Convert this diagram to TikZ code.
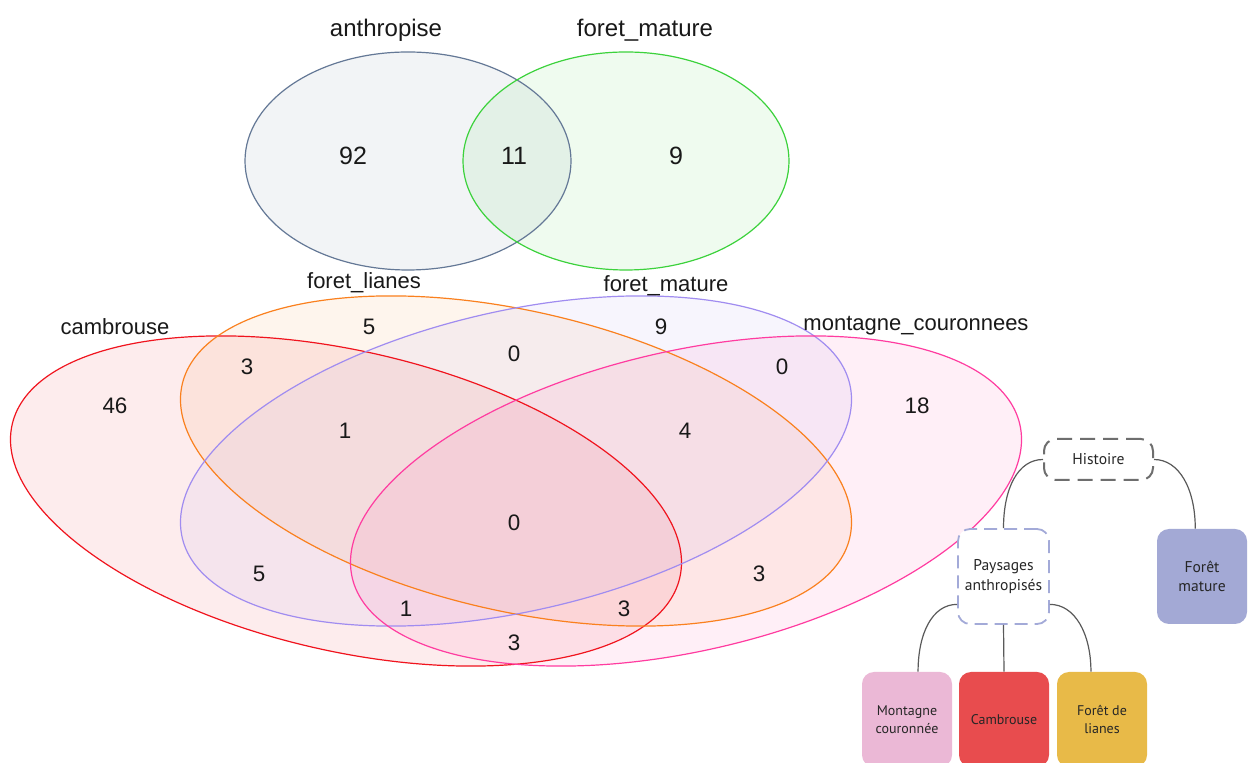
\documentclass[tikz,border=0pt]{standalone}
\usepackage{fontspec}
\setmainfont{Liberation Sans}
\newfontfamily\treefont{PT Sans}
\definecolor{cRed}{RGB}{240,20,30}
\definecolor{cOrange}{RGB}{250,128,30}
\definecolor{cPurple}{RGB}{160,140,240}
\definecolor{cPink}{RGB}{255,60,160}
\definecolor{cSlate}{RGB}{100,120,150}
\definecolor{cGreen}{RGB}{60,210,60}
\definecolor{cHist}{RGB}{110,110,110}
\definecolor{cPays}{RGB}{163,170,216}
\definecolor{cForet}{RGB}{163,169,213}
\definecolor{cMont}{RGB}{235,184,214}
\definecolor{cCamb}{RGB}{232,76,78}
\definecolor{cLian}{RGB}{232,186,72}
\definecolor{cLink}{RGB}{90,90,90}
\begin{document}
\begin{tikzpicture}[x=0.5pt,y=-0.5pt,
  vlbl/.style={font=\fontsize{11}{13}\selectfont, inner sep=0pt, text=black!90},
  vnum/.style={font=\fontsize{11.2}{13}\selectfont, inner sep=0pt, text=black!90},
  tlbl/.style={font=\fontsize{12}{14}\selectfont, inner sep=0pt, text=black!90},
  tnum/.style={font=\fontsize{12.5}{14}\selectfont, inner sep=0pt, text=black!90},
  vfill/.style={fill=#1, fill opacity=0.08},
  vline/.style={draw=#1, line width=0.6pt},
  treetext/.style={font=\treefont\fontsize{7.8}{9.6}\selectfont, align=center, text=black!85},
  dashbox/.style={treetext, rounded corners=6pt, fill=white, inner sep=0pt},
  colbox/.style={treetext, rounded corners=6pt, fill=#1, inner sep=0pt, minimum width=45pt, minimum height=47.5pt},
  link/.style={draw=cLink, line width=0.6pt}
]
\useasboundingbox (0,0) rectangle (1248,763);
\clip (0,0) rectangle (1248,763);
\fill[white] (0,0) rectangle (1248,763);

% ---------- top Venn ----------
\path[vfill=cSlate] (408,161) ellipse [x radius=163, y radius=109];
\path[vfill=cGreen] (626,161) ellipse [x radius=163, y radius=109];
\path[vline=cSlate] (408,161) ellipse [x radius=163, y radius=109];
\path[vline=cGreen] (626,161) ellipse [x radius=163, y radius=109];
\node[tlbl] (tA) at (386,30) {anthropise};
\node[tlbl] (tF) at (645,30) {foret\_mature};
\node[tnum] (n92) at (353,156) {92};
\node[tnum] (n11) at (514,156) {11};
\node[tnum] (n9t) at (676,156) {9};

% ---------- bottom Venn ----------
\path[vfill=cRed, rotate around={-12.93:(346,501)}] (346,501) ellipse [x radius=342.5, y radius=150];
\path[vfill=cOrange, rotate around={-12.93:(516,461)}] (516,461) ellipse [x radius=342.5, y radius=150];
\path[vfill=cPurple, rotate around={12.93:(516,461)}] (516,461) ellipse [x radius=342.5, y radius=150];
\path[vfill=cPink, rotate around={12.93:(686,501)}] (686,501) ellipse [x radius=342.5, y radius=150];
\path[vline=cRed, rotate around={-12.93:(346,501)}] (346,501) ellipse [x radius=342.5, y radius=150];
\path[vline=cOrange, rotate around={-12.93:(516,461)}] (516,461) ellipse [x radius=342.5, y radius=150];
\path[vline=cPurple, rotate around={12.93:(516,461)}] (516,461) ellipse [x radius=342.5, y radius=150];
\path[vline=cPink, rotate around={12.93:(686,501)}] (686,501) ellipse [x radius=342.5, y radius=150];

\node[vlbl] (lL) at (364,283) {foret\_lianes};
\node[vlbl] (lM) at (666,286) {foret\_mature};
\node[vlbl] (lC) at (115,327) {cambrouse};
\node[vlbl] (lP) at (916,326) {montagne\_couronnees};

\node[vnum] (a1) at (369,327) {5};
\node[vnum] (a2) at (661,327) {9};
\node[vnum] (a3) at (247,367) {3};
\node[vnum] (a4) at (514,354) {0};
\node[vnum] (a5) at (782,367) {0};
\node[vnum] (a6) at (115,406) {46};
\node[vnum] (a7) at (917,406) {18};
\node[vnum] (a8) at (345,431) {1};
\node[vnum] (a9) at (685,431) {4};
\node[vnum] (a10) at (514,523) {0};
\node[vnum] (a11) at (259,574) {5};
\node[vnum] (a12) at (759,574) {3};
\node[vnum] (a13) at (406,609) {1};
\node[vnum] (a14) at (624,609) {3};
\node[vnum] (a15) at (514,643) {3};

% ---------- tree ----------
\node[dashbox, draw=cHist, line width=1pt, dash pattern=on 7.5pt off 4pt,
      minimum width=54.5pt, minimum height=20.5pt] (hist) at (1098.5,459.5) {Histoire};
\node[dashbox, draw=cPays, line width=0.9pt, dash pattern=on 6.5pt off 3.5pt,
      minimum width=45.5pt, minimum height=47.5pt] (pays) at (1003.5,576.5) {Paysages\\anthropisés};
\node[colbox=cForet] (foret) at (1202,576.5) {Forêt\\mature};
\node[colbox=cMont, font=\treefont\fontsize{7}{9}\selectfont] (mont) at (907,719.5) {Montagne\\couronnée};
\node[colbox=cCamb, font=\treefont\fontsize{7}{9}\selectfont] (camb) at (1004,719.5) {Cambrouse};
\node[colbox=cLian, font=\treefont\fontsize{7}{9}\selectfont] (lian) at (1102,719.5) {Forêt de\\lianes};

\draw[link] (hist.west) .. controls +(-25,0) and +(0,-40) .. (pays.north);
\draw[link] (hist.east) .. controls +(25,0) and +(0,-40) .. (foret.98);
\draw[link] (pays.211) .. controls +(-25,0) and +(0,-38) .. (mont.77);
\draw[link] (pays.south) -- (camb.north);
\draw[link] (pays.-31) .. controls +(25,0) and +(0,-38) .. (lian.103);
\end{tikzpicture}
\end{document}
